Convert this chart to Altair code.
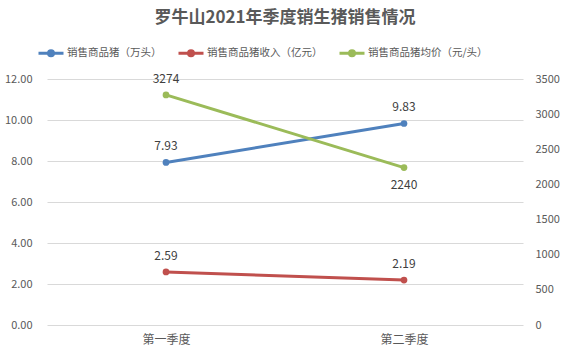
import altair as alt
import pandas as pd

quarters = ["第一季度", "第二季度"]
series_names = ["销售商品猪（万头）", "销售商品猪收入（亿元）", "销售商品猪均价（元/头）"]
pig_volume = [7.93, 9.83]
pig_revenue = [2.59, 2.19]
pig_price = [3274, 2240]
price_label_pos = ["above", "below"]
left_ticks = [0, 2, 4, 6, 8, 10, 12]
right_ticks = [0, 500, 1000, 1500, 2000, 2500, 3000, 3500]
colors = ["#4F81BD", "#C0504D", "#9BBB59"]

FONT = "Noto Sans CJK SC"
GREY = "#595959"

left_df = pd.DataFrame({
    "quarter": quarters * 2,
    "series": [series_names[0]] * 2 + [series_names[1]] * 2,
    "value": pig_volume + pig_revenue,
})
right_df = pd.DataFrame({
    "quarter": quarters,
    "series": [series_names[2]] * 2,
    "value": pig_price,
    "pos": price_label_pos,
})

x = alt.X("quarter:N", sort=quarters, scale=alt.Scale(padding=0.5),
          axis=alt.Axis(title=None, labelAngle=0, ticks=False, domain=False,
                        labelPadding=9, labelFontSize=12, labelColor=GREY,
                        labelFont=FONT, grid=False))

legend_path = "M-1,0L1,0M0.2,0A0.2,0.2,0,1,1,-0.2,0A0.2,0.2,0,1,1,0.2,0Z"
color = alt.Color(
    "series:N",
    scale=alt.Scale(domain=series_names, range=colors),
    legend=alt.Legend(
        title=None, orient="none", legendX=-10, legendY=-40,
        direction="horizontal", symbolType=legend_path, symbolSize=625,
        symbolStrokeWidth=3, symbolFillColor="transparent",
        labelFontSize=10.5, labelFont=FONT,
        labelColor=GREY, columnPadding=10, labelOffset=2,
    ),
)

y_left = alt.Y("value:Q", scale=alt.Scale(domain=[0, 12]),
               axis=alt.Axis(title=None, values=left_ticks, format=".2f",
                             grid=True, gridColor="#d9d9d9", domain=False,
                             ticks=False, labelPadding=15, labelFontSize=11,
                             labelColor=GREY, labelFont=FONT))
y_right = alt.Y("value:Q", scale=alt.Scale(domain=[0, 3500]),
                axis=alt.Axis(title=None, orient="right", values=right_ticks,
                              format="d", grid=False, domain=False, ticks=False,
                              labelPadding=12, labelFontSize=11,
                              labelColor=GREY, labelFont=FONT))

base_left = alt.Chart(left_df).encode(x=x, y=y_left)
left_lines = base_left.mark_line(strokeWidth=3, point=alt.OverlayMarkDef(size=45, filled=True)).encode(color=color)
left_text = base_left.mark_text(dy=-16, fontSize=12, font=FONT, color="#404040").encode(
    text=alt.Text("value:Q", format=".2f"))
left_layer = alt.layer(left_lines, left_text)

base_right = alt.Chart(right_df).encode(x=x, y=y_right)
right_lines = base_right.mark_line(strokeWidth=3, point=alt.OverlayMarkDef(size=45, filled=True)).encode(color=color)
right_text_above = base_right.transform_filter(alt.datum.pos == "above").mark_text(
    dy=-16, fontSize=12, font=FONT, color="#404040").encode(text=alt.Text("value:Q", format="d"))
right_text_below = base_right.transform_filter(alt.datum.pos == "below").mark_text(
    dy=17, fontSize=12, font=FONT, color="#404040").encode(text=alt.Text("value:Q", format="d"))
right_layer = alt.layer(right_lines, right_text_above, right_text_below)

chart = alt.layer(left_layer, right_layer).resolve_scale(y="independent").properties(
    width=476, height=246,
    title=alt.TitleParams("罗牛山2021年季度销生猪销售情况", fontSize=17, font=FONT,
                          fontWeight="bold", color=GREY, anchor="middle",
                          frame="group", offset=12),
    autosize=alt.AutoSizeParams(type="none"),
    padding={"left": 47, "top": 79, "right": 45, "bottom": 29},
).configure_view(stroke=None)

chart.save("out.html", embed_options={"renderer": "svg", "actions": False})
